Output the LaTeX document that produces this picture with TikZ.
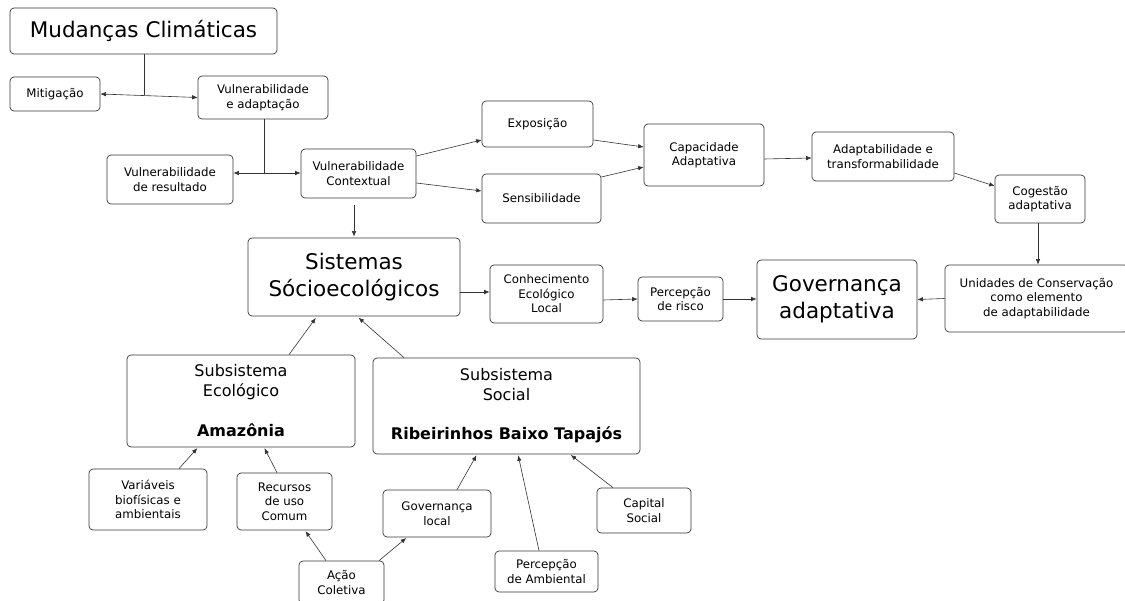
\documentclass[tikz,border=0pt]{standalone}
\usepackage{fontspec}
\setmainfont{DejaVu Sans}
\usetikzlibrary{arrows.meta}
\begin{document}
\begin{tikzpicture}[x=1pt,y=-1pt,
  box/.style={draw=black!78, rounded corners=4pt, line width=0.7pt, align=center, inner sep=0pt, fill=white},
  sm/.style={font=\fontsize{11.8}{14.5}\selectfont},
  big/.style={font=\fontsize{21.5}{27}\selectfont},
  mid/.style={font=\fontsize{16}{20}\selectfont},
  conn/.style={draw=black!80, line width=0.6pt},
  arr/.style={conn, -{Latex[length=5.5pt,width=4.5pt]}},
  barr/.style={conn, {Latex[length=5.5pt,width=4.5pt]}-{Latex[length=5.5pt,width=4.5pt]}}]
\useasboundingbox (0,0) rectangle (1125,601);
% nodes
\node[box,big,minimum width=267pt,minimum height=46pt] (mud) at (143.5,31) {Mudanças Climáticas};
\node[box,sm,minimum width=90pt,minimum height=34pt] (mit) at (55,94) {Mitigação};
\node[box,sm,minimum width=130pt,minimum height=43pt] (va) at (263,97.5) {Vulnerabilidade\\e adaptação};
\node[box,sm,minimum width=126pt,minimum height=49pt] (vdr) at (170,179.5) {Vulnerabilidade\\de resultado};
\node[box,sm,minimum width=115pt,minimum height=49pt] (vc) at (358.5,173.5) {Vulnerabilidade\\Contextual};
\node[box,sm,minimum width=111pt,minimum height=46pt] (exp) at (537.5,124) {Exposição};
\node[box,sm,minimum width=119pt,minimum height=49pt] (sen) at (541.5,198.5) {Sensibilidade};
\node[box,sm,minimum width=120pt,minimum height=62pt] (cap) at (704,155) {Capacidade\\Adaptativa};
\node[box,sm,minimum width=142pt,minimum height=49pt] (adt) at (883,156.5) {Adaptabilidade e\\transformabilidade};
\node[box,sm,minimum width=90pt,minimum height=48pt] (cog) at (1040,199) {Cogestão\\adaptativa};
\node[box,sm,minimum width=183pt,minimum height=67pt] (uc) at (1036.5,298.5) {Unidades de Conservação\\como elemento\\de adaptabilidade};
\node[box,big,minimum width=160pt,minimum height=79pt] (gov) at (837,299.5) {Governança\\adaptativa};
\node[box,sm,minimum width=85pt,minimum height=44pt] (per) at (680.5,299) {Percepção\\de risco};
\node[box,sm,minimum width=113pt,minimum height=58pt] (cel) at (546.5,294) {Conhecimento\\Ecológico\\Local};
\node[box,big,minimum width=212pt,minimum height=78pt] (sis) at (354,277) {Sistemas\\Sócioecológicos};
\node[box,mid,minimum width=228pt,minimum height=92pt] (seco) at (241,401) {Subsistema\\Ecológico\\[20pt]\textbf{Amazônia}};
\node[box,mid,minimum width=267pt,minimum height=96pt] (ssoc) at (506.5,406) {Subsistema\\Social\\[19pt]\textbf{Ribeirinhos Baixo Tapajós}};
\node[box,sm,minimum width=118pt,minimum height=61pt] (var) at (148,499.5) {Variáveis\\biofísicas e\\ambientais};
\node[box,sm,minimum width=95pt,minimum height=57pt] (rec) at (284.5,501.5) {Recursos\\de uso\\Comum};
\node[box,sm,minimum width=85pt,minimum height=43pt] (acao) at (341.5,582.5) {Ação\\Coletiva};
\node[box,sm,minimum width=108pt,minimum height=47pt] (govl) at (437,513.5) {Governança\\local};
\node[box,sm,minimum width=103pt,minimum height=41pt] (pamb) at (546.5,571.5) {Percepção\\de Ambiental};
\node[box,sm,minimum width=94pt,minimum height=45pt] (cs) at (644,510.5) {Capital\\Social};
% junctions
\coordinate (j1) at (144,95);
\coordinate (j2) at (264,173);
% connectors
\draw[conn] (mud.south -| j1) -- (j1);
\draw[barr] (mit.east) -- (va.west);
\draw[conn] (va.south -| j2) -- (j2);
\draw[barr] (vdr.east |- j2) -- (vc.west |- j2);
\draw[arr] ([yshift=-7pt]vc.south -| sis.north) -- ([yshift=1pt]sis.north);
\draw[arr] ([yshift=17.5pt]vc.east) -- ([yshift=-16pt]exp.west);
\draw[arr] ([yshift=-9.5pt]vc.east) -- ([yshift=7.5pt]sen.west);
\draw[arr] ([yshift=-16pt]exp.east) -- ([yshift=8pt]cap.west);
\draw[arr] ([yshift=21.5pt]sen.east) -- ([yshift=-12pt]cap.west);
\draw[arr] ([yshift=-4pt]cap.east) -- ([yshift=-1.5pt]adt.west);
\draw[arr] ([yshift=-16.5pt]adt.east) -- ([yshift=13pt]cog.west);
\draw[arr] ([xshift=-2pt]cog.south) -- ([xshift=-2pt]cog.south |- uc.north);
\draw[arr] (uc.west) -- (gov.east);
\draw[arr] (per.east) -- (per.east -| gov.west);
\draw[arr] ([yshift=-6pt]cel.east) -- (per.west);
\draw[arr] ([yshift=-15pt]sis.east) -- ([yshift=-15pt]sis.east -| cel.west);
\draw[arr,shorten >=2pt] ([xshift=48pt]seco.north) -- ([xshift=-37pt]sis.south);
\draw[arr,shorten >=2pt] ([xshift=-102.5pt]ssoc.north) -- ([xshift=3pt]sis.south);
\draw[arr,shorten >=1pt] ([xshift=31pt]var.north) -- ([xshift=-43pt]seco.south);
\draw[arr,shorten >=1pt] ([xshift=-7.5pt]rec.north) -- ([xshift=23pt]seco.south);
\draw[arr,shorten >=1pt] ([xshift=-15.5pt]acao.north) -- ([xshift=20.5pt]rec.south);
\draw[arr,shorten >=1pt] ([xshift=37.5pt]acao.north) -- ([xshift=-30pt]govl.south);
\draw[arr,shorten >=1pt] ([xshift=20pt]govl.north) -- ([xshift=-29.5pt]ssoc.south);
\draw[arr,shorten >=1pt] ([xshift=-7.5pt]pamb.north) -- ([xshift=11.5pt]ssoc.south);
\draw[arr,shorten >=1pt] ([xshift=-31pt]cs.north) -- ([xshift=63.5pt]ssoc.south);
\end{tikzpicture}
\end{document}
